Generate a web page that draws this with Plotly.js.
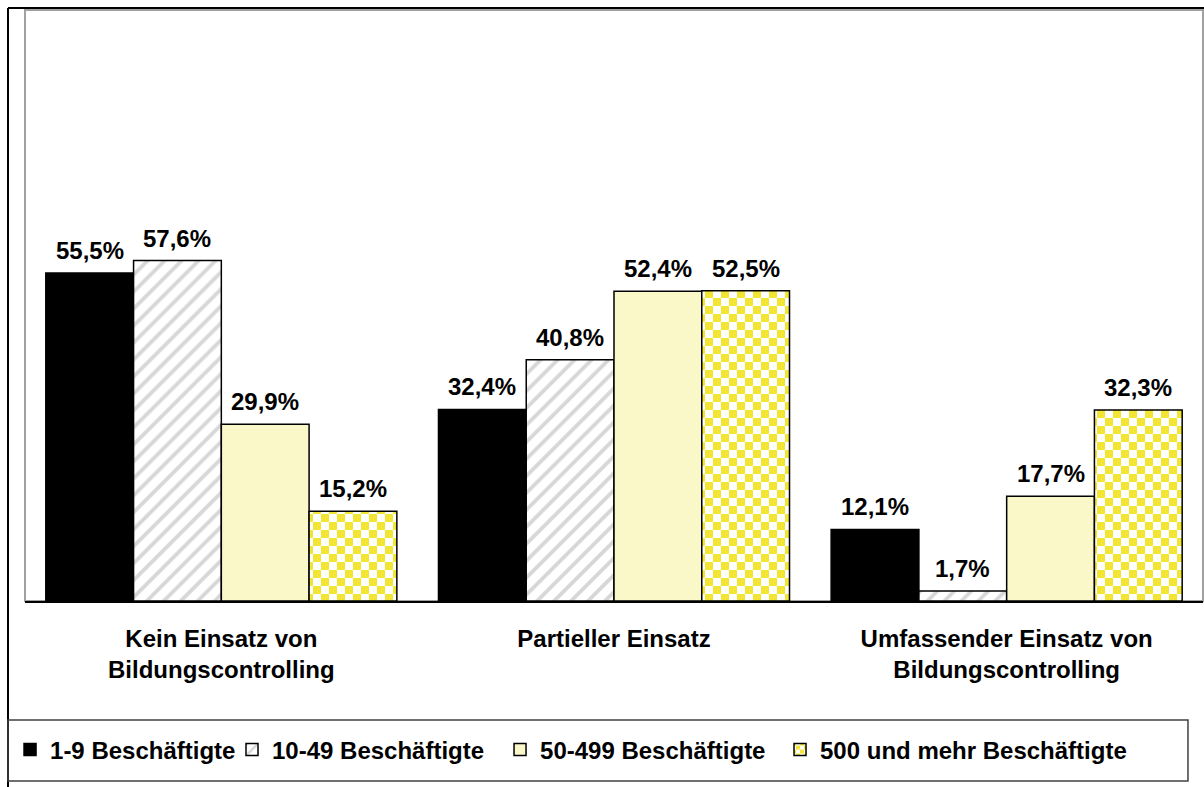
<!DOCTYPE html>
<html>
<head>
<meta charset="utf-8">
<script src="https://cdn.plot.ly/plotly-3.0.1.min.js"></script>
<style>
html,body{margin:0;padding:0;background:#fff;}
#chart{width:1204px;height:787px;}
</style>
</head>
<body>
<div id="chart"></div>
<script>
// ---- data ----
var categories = ["Kein Einsatz von<br>Bildungscontrolling", "Partieller Einsatz", "Umfassender Einsatz von<br>Bildungscontrolling"];
var seriesNames = ["1-9 Beschäftigte", "10-49 Beschäftigte", "50-499 Beschäftigte", "500 und mehr Beschäftigte"];
var vals_1_9 = [55.5, 32.4, 12.1];
var vals_10_49 = [57.6, 40.8, 1.7];
var vals_50_499 = [29.9, 52.4, 17.7];
var vals_500 = [15.2, 52.5, 32.3];
var allSeries = [vals_1_9, vals_10_49, vals_50_499, vals_500];

// ---- styling ----
var FONT = "Arial, 'Liberation Sans', sans-serif";
var FS = 24;
var bargap = 0.106;
var markers = [
  {color: "#000000", line: {color: "#000000", width: 1.5}},
  {color: "#ffffff", line: {color: "#000000", width: 1.5},
   pattern: {shape: "/", fgcolor: "#b0b0b0", bgcolor: "#ffffff", size: 12, solidity: 0.32, fillmode: "overlay"}},
  {color: "#FAF7C8", line: {color: "#000000", width: 1.5}},
  {color: "#F2E633", line: {color: "#000000", width: 1.5},
   pattern: {shape: ".", fgcolor: "#F2E633", bgcolor: "#ffffff", size: 16, solidity: 0.5, fillmode: "replace"}}
];
var legendNames = ["legend", "legend2", "legend3", "legend4"];

var traces = allSeries.map(function (vals, j) {
  return {
    type: "bar",
    name: seriesNames[j],
    x: categories,
    y: vals,
    marker: markers[j],
    legend: legendNames[j],
    hoverinfo: "x+y+name"
  };
});

// value labels (annotations anchored to the data)
var annotations = [];
var w = (1 - bargap) / allSeries.length;
allSeries.forEach(function (vals, j) {
  vals.forEach(function (v, i) {
    annotations.push({
      xref: "x", yref: "y",
      x: i + (j - (allSeries.length - 1) / 2) * w,
      y: v,
      text: v.toFixed(1).replace(".", ",") + "%",
      showarrow: false,
      yanchor: "bottom",
      yshift: 7,
      font: {family: FONT, size: FS, color: "#000", weight: "bold"}
    });
  });
});

var shapes = [
  // outer frame (left + top)
  {type: "line", xref: "paper", yref: "paper", x0: 0, x1: 0, y0: -0.02, y1: 1, line: {color: "#000", width: 2}},
  {type: "line", xref: "paper", yref: "paper", x0: 0, x1: 1.02, y0: 1, y1: 1, line: {color: "#000", width: 2}},
  // plot-area border
  {type: "rect", xref: "x domain", yref: "y domain", x0: 0, x1: 1, y0: 0, y1: 1, layer: "below",
   line: {color: "#a0a0a0", width: 2}},
  // legend box
  {type: "rect", xref: "paper", yref: "paper", x0: 0, x1: 0.9866, y0: 0, y1: 0.0789,
   line: {color: "#404040", width: 1.5}}
];

var legendX = [0.0017, 0.1873, 0.4114, 0.6455];
var layout = {
  width: 1204, height: 787,
  margin: {l: 8, r: 0, t: 8, b: 6},
  paper_bgcolor: "#ffffff",
  plot_bgcolor: "#ffffff",
  barmode: "group",
  bargap: bargap,
  bargroupgap: 0,
  showlegend: true,
  xaxis: {
    domain: [0.01421, 0.99916],
    type: "category",
    showgrid: false, zeroline: false,
    showline: true, linecolor: "#000", linewidth: 2,
    ticks: "",
    ticklabelstandoff: 15,
    tickfont: {family: FONT, size: FS, color: "#000", weight: "bold"}
  },
  yaxis: {
    domain: [0.2329, 0.99741],
    range: [0, 100],
    showgrid: false, zeroline: false, showline: false,
    showticklabels: false, ticks: ""
  },
  annotations: annotations,
  shapes: shapes,
  font: {family: FONT, color: "#000"}
};
legendNames.forEach(function (ln, j) {
  layout[ln] = {
    x: legendX[j], y: 0.0401, xanchor: "left", yanchor: "middle",
    orientation: "h", bgcolor: "rgba(0,0,0,0)", borderwidth: 0,
    font: {family: FONT, size: FS, color: "#000", weight: "bold"}
  };
});

function checker() {
  var pats = document.querySelectorAll("#chart pattern");
  pats.forEach(function (p) {
    var c = p.querySelector("circle");
    if (!c) return;
    var s = parseFloat(p.getAttribute("width")) || 16;
    var h = s / 2;
    var yellow = c.getAttribute("fill") || "#F2E633";
    while (p.firstChild) p.removeChild(p.firstChild);
    var ns = "http://www.w3.org/2000/svg";
    function r(x, y, ww, hh, f) {
      var e = document.createElementNS(ns, "rect");
      e.setAttribute("x", x); e.setAttribute("y", y);
      e.setAttribute("width", ww); e.setAttribute("height", hh);
      e.setAttribute("fill", f);
      p.appendChild(e);
    }
    r(0, 0, s, s, "#ffffff");
    r(0, 0, h, h, yellow);
    r(h, h, h, h, yellow);
  });
}

var gd = document.getElementById("chart");
Plotly.newPlot(gd, traces, layout, {displayModeBar: false, staticPlot: true}).then(function () {
  checker();
  gd.on("plotly_afterplot", checker);
});
</script>
</body>
</html>
